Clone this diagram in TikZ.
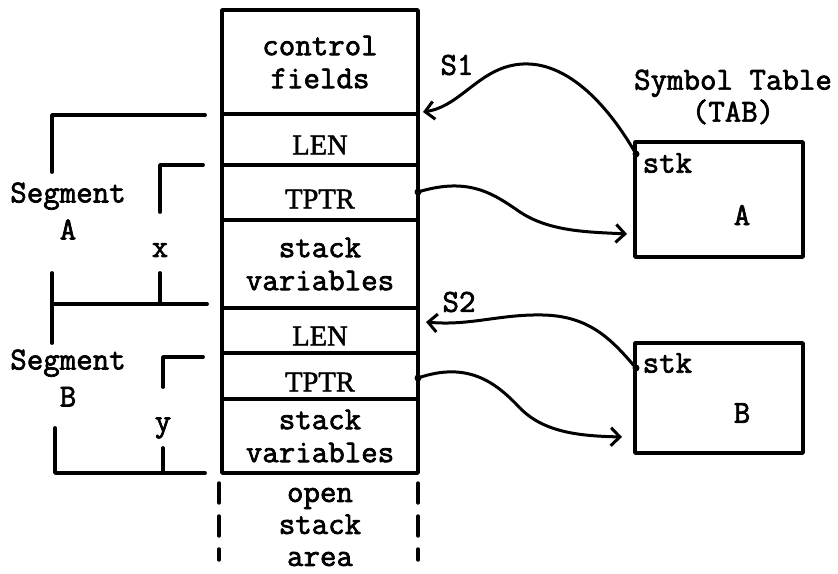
\documentclass[tikz,border=0pt]{standalone}
\usepackage{fontspec}
\setmainfont[FakeBold=2.2,AutoFakeBold=2.2]{Latin Modern Mono}
\newfontfamily\serifcap[FakeBold=1.6]{Liberation Serif}
\usetikzlibrary{arrows.meta}
\begin{document}
\begin{tikzpicture}[x=1pt,y=-1pt,
  line width=3.4pt, line cap=round, line join=round,
  txt/.style={font=\bfseries\fontsize{32}{32}\selectfont, align=center, inner sep=0pt},
  seg/.style={font=\bfseries\fontsize{32}{37}\selectfont, align=center, inner sep=0pt},
  caps/.style={font=\serifcap\fontsize{28.5}{32}\selectfont, inner sep=0pt},
  cell/.style={draw, line width=3.4pt, minimum width=196pt, inner sep=0pt, align=center, font=\bfseries\fontsize{32}{33}\selectfont},
  tab/.style={draw, line width=3.8pt, minimum width=168pt, inner sep=0pt},
  ptr/.style={line width=3pt, -{Straight Barb[length=9pt,width=18pt,line width=3pt]}},
  brk/.style={line width=3.8pt},
  dotst/.style={circle, fill, inner sep=0pt, minimum size=7pt},
  dsh/.style={line width=3.4pt, dash pattern=on 20pt off 13pt}]
\useasboundingbox (0,0) rectangle (838,573);

% memory column
\node[cell, minimum height=104pt] (ctrl) at (320,62) {control\\fields};
\node[cell, minimum height=51pt] (len1) at (320,139.5) {};
\node[caps] (len1t) at (320,145) {LEN};
\node[cell, minimum height=55pt] (tptr1) at (320,192.5) {};
\node[caps] (tptr1t) at (320,199) {TPTR};
\node[cell, minimum height=88pt] (sv1) at (320,264) {stack\\variables};
\node[cell, minimum height=45pt] (len2) at (320,330.5) {};
\node[caps] (len2t) at (320,336) {LEN};
\node[cell, minimum height=46pt] (tptr2) at (320,376) {};
\node[caps] (tptr2t) at (320,382) {TPTR};
\node[cell, minimum height=74pt] (sv2) at (320,436) {stack\\variables};

% open stack area
\coordinate (dl0) at (219,483);
\coordinate (dl1) at (219,560);
\coordinate (dr0) at (418,483);
\coordinate (dr1) at (418,560);
\draw[dsh] (dl0) -- (dl1);
\draw[dsh] (dr0) -- (dr1);
\node[txt] (open) at (320,527) {open\\stack\\area};

% segment brackets
\draw[brk] (52,172) -- (52,115) -- (205,115);
\draw[brk] (52,273) -- (52,343);
\draw[brk] (52,304) -- (207,304);
\draw[brk] (160,212) -- (160,165) -- (203,165);
\draw[brk] (160,273) -- (160,304);
\draw[brk] (163,387) -- (163,357) -- (203,357);
\draw[brk] (163,448) -- (163,473);
\draw[brk] (55,428) -- (55,473) -- (205,473);
\node[seg] (segA) at (68,211) {Segment\\A};
\node[seg] (segB) at (68,378) {Segment\\B};
\node[txt] (xl) at (160,250) {x};
\node[txt] (yl) at (163,428) {y};

% symbol table
\node[txt] (symt) at (733,97) {Symbol Table\\(TAB)};
\node[tab, minimum height=115pt] (tabA) at (719,199.5) {};
\node[txt, anchor=west] (stkA) at (641,163) {stk};
\node[txt] (A) at (742,215) {A};
\node[tab, minimum height=110pt] (tabB) at (719,398) {};
\node[txt, anchor=west] (stkB) at (641,363) {stk};
\node[txt] (B) at (742,413) {B};

\node[txt] (s1) at (457,65) {S1};
\node[txt] (s2) at (459,302) {S2};

% pointers
\coordinate (a1) at (636,154);
\coordinate (a2) at (636,368);
\coordinate (t1) at (418,192);
\coordinate (t2) at (418,378);
\node[dotst] at (a1) {};
\node[dotst] at (a2) {};
\node[dotst] at (t1) {};
\node[dotst] at (t2) {};
\draw[ptr] (a1) .. controls (605,100) and (565,62) .. (523,64)
  .. controls (480,66) and (462,106) .. (423,112);
\draw[ptr] (t1) .. controls (470,176) and (495,195) .. (520,212)
  .. controls (550,232) and (590,232) .. (627,234);
\draw[ptr] (a2) .. controls (612,340) and (590,316) .. (543,315)
  .. controls (500,314) and (470,326) .. (426,322);
\draw[ptr] (t2) .. controls (470,360) and (498,385) .. (520,408)
  .. controls (545,434) and (585,436) .. (622,437);
\end{tikzpicture}
\end{document}
